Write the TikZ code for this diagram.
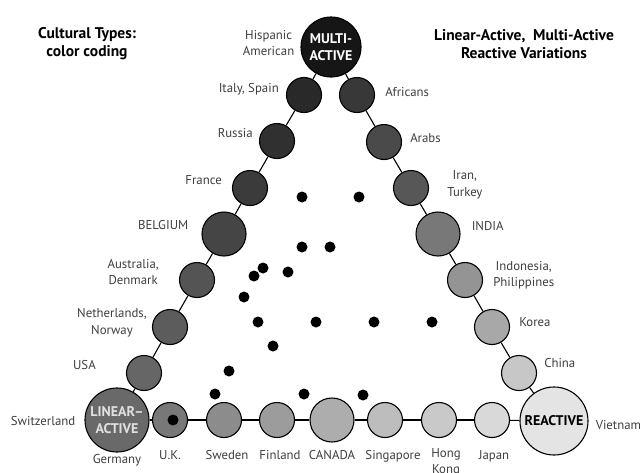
\documentclass[tikz,border=0pt]{standalone}
\usepackage{fontspec}
\setmainfont{PT Sans}
\usepackage{xcolor}
\usepackage{tikz}
\usetikzlibrary{positioning}
\definecolor{labelgray}{RGB}{62,62,66}
\definecolor{multifill}{RGB}{22,22,22}
\definecolor{linearfill}{RGB}{105,105,105}
\definecolor{reactfill}{RGB}{228,228,228}
\definecolor{lineartext}{RGB}{225,225,225}
\tikzstyle{country} = [circle, draw=black, line width=1.1pt, minimum size=35pt, inner sep=0pt]
\tikzstyle{bigcountry} = [country, minimum size=44pt]
\tikzstyle{pole} = [circle, draw=black, line width=1.1pt, inner sep=0pt, align=center,
    font=\fontsize{14}{16.5}\selectfont\bfseries]
\tikzstyle{lbl} = [font=\fontsize{12.8}{16.5}\selectfont, text=labelgray, align=center, inner sep=1pt]
\tikzstyle{title} = [font=\fontsize{15.5}{18}\selectfont\bfseries, align=center, text=black]
\tikzstyle{dot} = [circle, fill=black, minimum size=11pt, inner sep=0pt]
\tikzstyle{link} = [line width=1.1pt]

\begin{document}
\begin{tikzpicture}[x=1pt, y=-1pt]
\useasboundingbox (0,0) rectangle (643,472);
% Poles
\node[pole, fill=multifill, text=white, minimum size=60pt] (ma) at (331,47) {MULTI-\\ACTIVE};
\node[pole, fill=linearfill, text=lineartext, minimum size=64pt] (la) at (117,420) {LINEAR--\\ACTIVE};
\node[pole, fill=reactfill, text=black, minimum size=68pt] (re) at (554,421) {REACTIVE};
% Left side
\node[country, fill=black!84] (it) at (304,95) {};
\node[country, fill=black!81] (ru) at (277,141) {};
\node[country, fill=black!77] (fr) at (250,188) {};
\node[bigcountry, fill=black!73] (be) at (224,234) {};
\node[country, fill=black!67] (au) at (197,280) {};
\node[country, fill=black!64] (ne) at (170,327) {};
\node[country, fill=black!60] (us) at (144,373) {};
% Right side
\node[country, fill=black!78] (af) at (357,95) {};
\node[country, fill=black!71] (ar) at (384,142) {};
\node[country, fill=black!66] (ir) at (411,188) {};
\node[bigcountry, fill=black!53] (in) at (438,234) {};
\node[country, fill=black!42] (id) at (465,280) {};
\node[country, fill=black!34] (ko) at (492,327) {};
\node[country, fill=black!22] (ch) at (519,373) {};
% Bottom side
\node[country, fill=black!53] (uk) at (170,420) {};
\node[country, fill=black!45] (sw) at (224,420) {};
\node[country, fill=black!39] (fi) at (277,420) {};
\node[bigcountry, fill=black!32] (ca) at (332,420) {};
\node[country, fill=black!26] (si) at (385,420) {};
\node[country, fill=black!21] (hk) at (439,420) {};
\node[country, fill=black!15] (ja) at (492,420) {};
% Links
\draw[link] (ma) -- (it);
\draw[link] (it) -- (ru);
\draw[link] (ru) -- (fr);
\draw[link] (fr) -- (be);
\draw[link] (be) -- (au);
\draw[link] (au) -- (ne);
\draw[link] (ne) -- (us);
\draw[link] (us) -- (la);
\draw[link] (ma) -- (af);
\draw[link] (af) -- (ar);
\draw[link] (ar) -- (ir);
\draw[link] (ir) -- (in);
\draw[link] (in) -- (id);
\draw[link] (id) -- (ko);
\draw[link] (ko) -- (ch);
\draw[link] (ch) -- (re);
\draw[link] (la) -- (uk);
\draw[link] (uk) -- (sw);
\draw[link] (sw) -- (fi);
\draw[link] (fi) -- (ca);
\draw[link] (ca) -- (si);
\draw[link] (si) -- (hk);
\draw[link] (hk) -- (ja);
\draw[link] (ja) -- (re);
% Labels left
\node[lbl, left=5pt of ma, yshift=4pt] (l_hisp) {Hispanic\\American};
\node[lbl, left=6pt of it, yshift=6pt] (l_it) {Italy, Spain};
\node[lbl, left=5pt of ru, yshift=8pt] (l_ru) {Russia};
\node[lbl, left=9pt of fr, yshift=8pt] (l_fr) {France};
\node[lbl, left=12pt of be, yshift=9pt] (l_be) {BELGIUM};
\node[lbl, left=19pt of au, yshift=8pt] (l_au) {Australia,\\Denmark};
\node[lbl, left=4pt of ne, yshift=4pt] (l_ne) {Netherlands,\\Norway};
\node[lbl, left=29pt of us, yshift=8pt] (l_us) {USA};
\node[lbl, left=8pt of la, yshift=-1pt] (l_sz) {Switzerland};
\node[lbl, below=1pt of la] (l_de) {Germany};
% Labels right
\node[lbl, right=9pt of af, yshift=3pt] (l_af) {Africans};
\node[lbl, right=7pt of ar, yshift=4pt] (l_ar) {Arabs};
\node[lbl, right=17pt of ir, yshift=3pt] (l_ir) {Iran,\\Turkey};
\node[lbl, right=10pt of in, yshift=8pt] (l_in) {INDIA};
\node[lbl, right=9pt of id, yshift=5pt] (l_id) {Indonesia,\\Philippines};
\node[lbl, right=8pt of ko, yshift=5pt] (l_ko) {Korea};
\node[lbl, right=6pt of ch, yshift=10pt] (l_ch) {China};
\node[lbl, right=6pt of re, yshift=-4pt] (l_vn) {Vietnam};
% Labels bottom
\node[lbl, below=21pt of uk, anchor=base] (l_uk) {U.K.};
\node[lbl, below=21pt of sw, anchor=base, xshift=3pt] (l_sw) {Sweden};
\node[lbl, below=21pt of fi, anchor=base, xshift=3pt] (l_fi) {Finland};
\node[lbl, below=16.5pt of ca, anchor=base] (l_ca) {CANADA};
\node[lbl, below=21pt of si, anchor=base, xshift=8pt] (l_si) {Singapore};
\node[lbl, below=9pt of hk, xshift=7pt] (l_hk) {Hong\\Kong};
\node[lbl, below=21pt of ja, anchor=base, xshift=2pt] (l_ja) {Japan};
% Titles
\node[title] (t_left) at (87,44) {Cultural Types:\\color coding};
\node[title] (t_right) at (524,44) {Linear-Active,\ \ Multi-Active\\Reactive Variations};
% Dots
\node[dot] (d1) at (302,197) {};
\node[dot] (d2) at (359,197) {};
\node[dot] (d3) at (302,247) {};
\node[dot] (d4) at (330,247) {};
\node[dot] (d5) at (263,268) {};
\node[dot] (d6) at (254,276) {};
\node[dot] (d7) at (288,272) {};
\node[dot] (d8) at (244,297) {};
\node[dot] (d9) at (258,322) {};
\node[dot] (d10) at (316,322) {};
\node[dot] (d11) at (374,322) {};
\node[dot] (d12) at (432,322) {};
\node[dot] (d13) at (273,346) {};
\node[dot] (d14) at (229,371) {};
\node[dot] (d15) at (215,394) {};
\node[dot] (d16) at (304,394) {};
\node[dot] (d17) at (363,395) {};
\node[dot] (d18) at (173,420) {};
\end{tikzpicture}
\end{document}
